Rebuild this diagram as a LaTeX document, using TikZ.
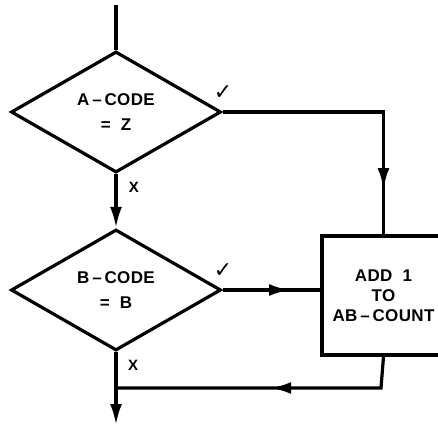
\documentclass[tikz,border=0pt]{standalone}
\usepackage{fontspec}
\setmainfont{Liberation Sans}
\newfontfamily\symfont{DejaVu Sans}
\usetikzlibrary{shapes.geometric,arrows.meta,decorations.markings}
\tikzset{
  flow/.style={line width=3.2pt},
  decision/.style={draw,flow,diamond,aspect=1.72,minimum width=210pt,minimum height=121pt,inner sep=0pt,align=center,font=\addfontfeature{LetterSpace=2}\bfseries\fontsize{17}{25}\selectfont},
  process/.style={draw,flow,rectangle,minimum width=123pt,minimum height=119pt,align=center,font=\addfontfeature{LetterSpace=2}\bfseries\fontsize{17}{20}\selectfont},
  flowtip/.tip={Latex[length=21pt,width=12pt]},
  midtip/.style={postaction={decorate},decoration={markings,mark=at position #1 with {\arrow{flowtip}}}},
  lbl/.style={font=\bfseries\fontsize{15}{15}\selectfont},
  okmark/.style={font=\symfont\fontsize{22}{22}\selectfont}
}
\begin{document}
\begin{tikzpicture}[x=1pt,y=-1pt]
\useasboundingbox (0,0) rectangle (438,427);

\node[decision] (acode) at (116,112) {A\,--\,CODE\\=\ \ Z};
\node[decision] (bcode) at (116,290) {B\,--\,CODE\\=\ \ B};
\node[process] (add) at (383.5,295.5) {ADD\ \ 1\\TO\\AB\,--\,COUNT};

\coordinate (start) at (116,5);
\coordinate (turn) at (acode.east -| add.north);
\coordinate (back) at (381,388);
\coordinate (join) at (back -| bcode.south);
\coordinate (stop) at (116,425);

\draw[flow] (start) -- (acode.north);
\draw[flow,-flowtip] (acode.south) -- (bcode.north) node[lbl,pos=.25,right=8pt]{X};
\draw[flow,midtip=.84] (acode.east) -- (turn) -- (add.north);
\draw[flow,midtip=.69] (bcode.east) -- (bcode.east -| add.west);
\draw[flow,midtip=.48] (add.south) -- (back) -- (join);
\draw[flow,-flowtip] (bcode.south) -- (stop);

\node[lbl] (xb) at (133,365) {X};
\node[okmark] (oka) at (223,93) {✓};
\node[okmark] (okb) at (223,271) {✓};

\end{tikzpicture}
\end{document}
